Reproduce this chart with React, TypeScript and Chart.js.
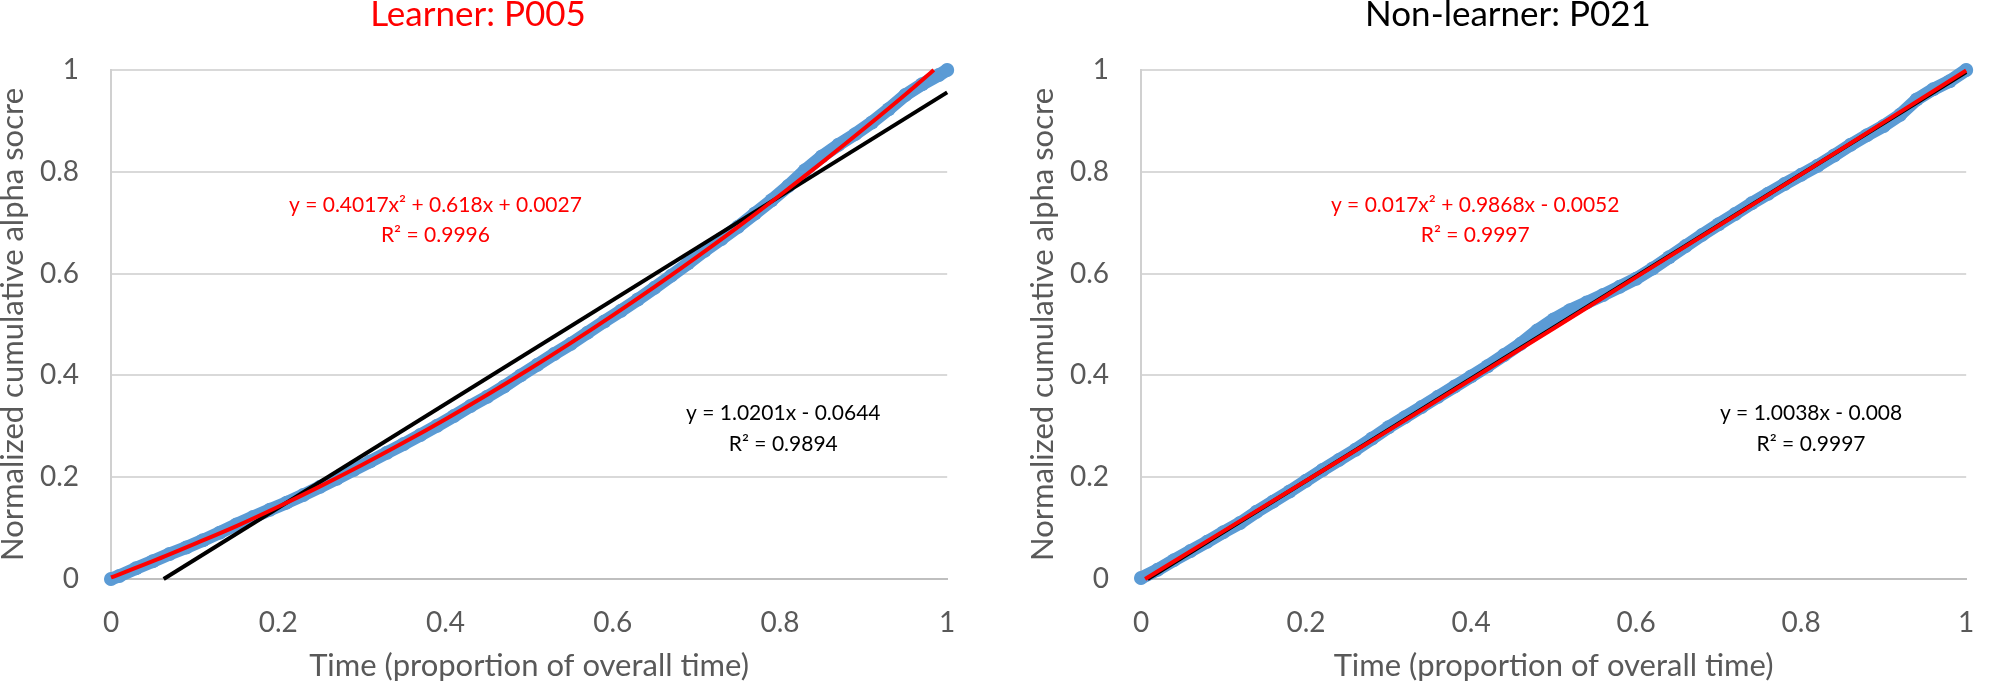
import { useEffect, useRef } from "react";
import { Chart, registerables } from "chart.js";

Chart.register(...registerables);

// ---------- Learner: P005 ----------
const learnerTime = [0, 0.01, 0.03, 0.05, 0.07, 0.09, 0.11, 0.13, 0.15, 0.17, 0.19, 0.21, 0.23, 0.25, 0.27, 0.29, 0.31, 0.33, 0.35, 0.37, 0.39, 0.41, 0.43, 0.45, 0.47, 0.49, 0.51, 0.53, 0.55, 0.57, 0.59, 0.61, 0.63, 0.65, 0.67, 0.69, 0.71, 0.73, 0.75, 0.77, 0.79, 0.81, 0.83, 0.85, 0.87, 0.89, 0.91, 0.93, 0.95, 0.97, 0.99, 1.0];
const learnerAlpha = [0.0, 0.006, 0.021, 0.035, 0.049, 0.062, 0.076, 0.091, 0.107, 0.122, 0.136, 0.15, 0.165, 0.181, 0.197, 0.214, 0.231, 0.248, 0.265, 0.283, 0.301, 0.32, 0.34, 0.358, 0.378, 0.4, 0.421, 0.442, 0.462, 0.484, 0.506, 0.527, 0.549, 0.572, 0.596, 0.62, 0.645, 0.668, 0.692, 0.718, 0.744, 0.772, 0.803, 0.83, 0.853, 0.874, 0.897, 0.923, 0.951, 0.972, 0.99, 1.0];
const learnerPolyTime = [0, 0.05, 0.1, 0.15, 0.2, 0.25, 0.3, 0.35, 0.4, 0.45, 0.5, 0.55, 0.6, 0.65, 0.7, 0.75, 0.8, 0.85, 0.9, 0.95, 0.984];
const learnerPolyAlpha = [0.003, 0.035, 0.069, 0.104, 0.142, 0.182, 0.224, 0.268, 0.314, 0.362, 0.412, 0.464, 0.518, 0.574, 0.632, 0.692, 0.754, 0.818, 0.884, 0.952, 1.0];
const learnerLinTime = [0.063, 1];
const learnerLinAlpha = [0, 0.956];
const learnerPolyLabel = ["y = 0.4017x² + 0.618x + 0.0027", "R² = 0.9996"];
const learnerLinLabel = ["y = 1.0201x - 0.0644", "R² = 0.9894"];

// ---------- Non-learner: P021 ----------
const nonTime = [0, 0.02, 0.04, 0.06, 0.08, 0.1, 0.12, 0.14, 0.16, 0.18, 0.2, 0.22, 0.24, 0.26, 0.28, 0.3, 0.32, 0.34, 0.36, 0.38, 0.4, 0.42, 0.44, 0.46, 0.48, 0.5, 0.52, 0.54, 0.56, 0.58, 0.6, 0.62, 0.64, 0.66, 0.68, 0.7, 0.72, 0.74, 0.76, 0.78, 0.8, 0.82, 0.84, 0.86, 0.88, 0.9, 0.92, 0.94, 0.96, 0.98, 1.0];
const nonAlpha = [0.002, 0.018, 0.037, 0.055, 0.073, 0.092, 0.11, 0.132, 0.152, 0.172, 0.193, 0.214, 0.234, 0.254, 0.276, 0.298, 0.318, 0.338, 0.358, 0.378, 0.398, 0.418, 0.44, 0.462, 0.488, 0.51, 0.528, 0.543, 0.558, 0.574, 0.59, 0.61, 0.632, 0.654, 0.676, 0.697, 0.717, 0.738, 0.757, 0.776, 0.794, 0.812, 0.832, 0.853, 0.872, 0.89, 0.912, 0.942, 0.962, 0.978, 1.0];
const nonPolyTime = [0.005, 0.1, 0.2, 0.3, 0.4, 0.5, 0.6, 0.7, 0.8, 0.9, 1.0];
const nonPolyAlpha = [0, 0.094, 0.193, 0.292, 0.392, 0.492, 0.593, 0.694, 0.795, 0.897, 0.999];
const nonLinTime = [0.008, 1];
const nonLinAlpha = [0, 0.996];
const nonPolyLabel = ["y = 0.017x² + 0.9868x - 0.0052", "R² = 0.9997"];
const nonLinLabel = ["y = 1.0038x - 0.008", "R² = 0.9997"];

const axisTicks = [0, 0.2, 0.4, 0.6, 0.8, 1];
const axisTickLabels = ["0", "0.2", "0.4", "0.6", "0.8", "1"];

const FONT = "Lato, 'Open Sans', sans-serif";
const BLUE = "#5b9bd5";
const RED = "#ff0000";

type Panel = {
  title: string;
  titleColor: string;
  time: number[];
  alpha: number[];
  polyTime: number[];
  polyAlpha: number[];
  linTime: number[];
  linAlpha: number[];
  polyLabel: string[];
  linLabel: string[];
  polyLabelPos: { x: number; y: number[] };
  linLabelPos: { x: number; y: number[] };
  left: number;
  width: number;
  padRight: number;
};

const panels: Panel[] = [
  {
    title: "Learner: P005",
    titleColor: RED,
    time: learnerTime,
    alpha: learnerAlpha,
    polyTime: learnerPolyTime,
    polyAlpha: learnerPolyAlpha,
    linTime: learnerLinTime,
    linAlpha: learnerLinAlpha,
    polyLabel: learnerPolyLabel,
    linLabel: learnerLinLabel,
    polyLabelPos: { x: 0.388, y: [0.735, 0.676] },
    linLabelPos: { x: 0.804, y: [0.326, 0.265] },
    left: -6,
    width: 988,
    padRight: 20,
  },
  {
    title: "Non-learner: P021",
    titleColor: "#000000",
    time: nonTime,
    alpha: nonAlpha,
    polyTime: nonPolyTime,
    polyAlpha: nonPolyAlpha,
    linTime: nonLinTime,
    linAlpha: nonLinAlpha,
    polyLabel: nonPolyLabel,
    linLabel: nonLinLabel,
    polyLabelPos: { x: 0.405, y: [0.735, 0.676] },
    linLabelPos: { x: 0.812, y: [0.326, 0.265] },
    left: 1024,
    width: 977,
    padRight: 9,
  },
];

const toPoints = (xs: number[], ys: number[]) => xs.map((x, i) => ({ x, y: ys[i] }));

const tickLabel = (v: any) => {
  const i = axisTicks.indexOf(Number(v));
  return i >= 0 ? axisTickLabels[i] : "";
};

function makeLabelPlugin(p: Panel) {
  return {
    id: "trendLabels",
    afterDatasetsDraw(chart: any) {
      const { ctx, scales } = chart;
      const xs = scales.x;
      const ys = scales.y;
      const groups = [
        { lines: p.polyLabel, pos: p.polyLabelPos, color: RED },
        { lines: p.linLabel, pos: p.linLabelPos, color: "#000000" },
      ];
      ctx.save();
      ctx.font = `21px ${FONT}`;
      ctx.textAlign = "center";
      ctx.textBaseline = "middle";
      for (const g of groups) {
        ctx.fillStyle = g.color;
        g.lines.forEach((t, i) => {
          ctx.fillText(t, xs.getPixelForValue(g.pos.x), ys.getPixelForValue(g.pos.y[i]));
        });
      }
      ctx.restore();
    },
  };
}

function ChartPanel({ p }: { p: Panel }) {
  const ref = useRef<HTMLCanvasElement | null>(null);
  useEffect(() => {
    if (!ref.current) return;
    const chart = new Chart(ref.current, {
      type: "scatter",
      data: {
        datasets: [
          {
            label: "Poly. trend",
            data: toPoints(p.polyTime, p.polyAlpha),
            showLine: true,
            borderColor: RED,
            borderWidth: 4,
            pointRadius: 0,
            cubicInterpolationMode: "monotone",
            clip: false,
          },
          {
            label: "Linear trend",
            data: toPoints(p.linTime, p.linAlpha),
            showLine: true,
            borderColor: "#000000",
            borderWidth: 4,
            pointRadius: 0,
            clip: false,
          },
          {
            label: "Alpha",
            data: toPoints(p.time, p.alpha),
            showLine: true,
            borderColor: BLUE,
            backgroundColor: BLUE,
            borderWidth: 13,
            borderCapStyle: "round",
            borderJoinStyle: "round",
            pointRadius: 7,
            pointBorderWidth: 0,
            clip: false,
          },
        ],
      } as any,
      options: {
        animation: false,
        responsive: false,
        devicePixelRatio: 1,
        layout: { padding: { left: 0, right: p.padRight, top: 0, bottom: 0 } },
        plugins: {
          legend: { display: false },
          tooltip: { enabled: false },
          title: {
            display: true,
            text: p.title,
            color: p.titleColor,
            font: { family: FONT, size: 35, lineHeight: 0.85, weight: "normal" },
            padding: { top: 0, bottom: 40.25 },
          },
        },
        scales: {
          x: {
            type: "linear",
            min: 0,
            max: 1,
            afterBuildTicks: (s: any) => {
              s.ticks = axisTicks.map((v) => ({ value: v }));
            },
            afterFit: (s: any) => {
              s.height = 109;
            },
            grid: { display: false, drawTicks: false },
            border: { display: true, color: "#bfbfbf", width: 2 },
            ticks: {
              color: "#595959",
              padding: 26.7,
              font: { family: FONT, size: 28, lineHeight: 1.2 },
              maxRotation: 0,
              callback: tickLabel,
            },
            title: {
              display: true,
              text: "Time (proportion of overall time)",
              color: "#595959",
              font: { family: FONT, size: 31, lineHeight: 1.2 },
              padding: { top: 0, bottom: 3.9 },
            },
          },
          y: {
            type: "linear",
            min: 0,
            max: 1,
            afterBuildTicks: (s: any) => {
              s.ticks = axisTicks.map((v) => ({ value: v }));
            },
            afterFit: (s: any) => {
              s.width = 117;
            },
            grid: { color: "#d9d9d9", lineWidth: 2, drawTicks: false },
            border: { display: true, color: "#d0d0d0", width: 2 },
            ticks: {
              color: "#595959",
              padding: 32,
              font: { family: FONT, size: 28, lineHeight: 1.2 },
              callback: tickLabel,
            },
            title: {
              display: true,
              text: "Normalized cumulative alpha socre",
              color: "#595959",
              font: { family: FONT, size: 31, lineHeight: 1.2 },
              padding: { top: 0.4, bottom: 0 },
            },
          },
        },
      } as any,
      plugins: [makeLabelPlugin(p)],
    });
    return () => chart.destroy();
  }, [p]);
  return (
    <canvas
      ref={ref}
      width={p.width}
      height={688}
      style={{ position: "absolute", left: p.left, top: 0, width: p.width, height: 688 }}
    />
  );
}

export default function App() {
  return (
    <div
      style={{
        position: "absolute",
        left: 0,
        top: 0,
        width: 2001,
        height: 688,
        overflow: "hidden",
        background: "#ffffff",
      }}
    >
      {panels.map((p) => (
        <ChartPanel key={p.title} p={p} />
      ))}
    </div>
  );
}
